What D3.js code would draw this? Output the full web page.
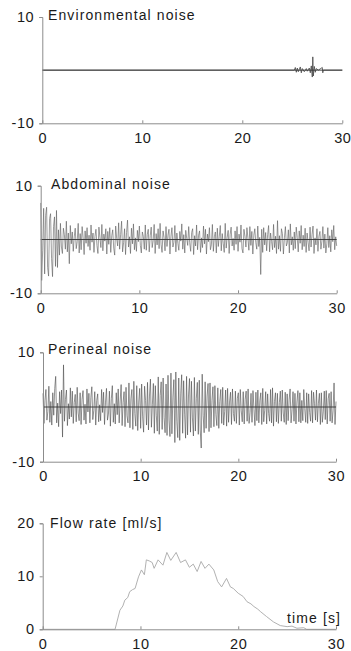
<!DOCTYPE html>
<html>
<head>
<meta charset="utf-8">
<script src="https://cdn.jsdelivr.net/npm/d3@7"></script>
<style>
  html, body { margin: 0; padding: 0; background: #fff; }
  svg { display: block; }
  text { font-family: "Liberation Sans", Arial, Helvetica, sans-serif; fill: #1a1a1a; }
</style>
</head>
<body>
<svg id="chart" width="351" height="651"></svg>
<script>
// ---------- DATA ----------
const xTicks = [0, 10, 20, 30];
const noiseYTicks = [-10, 10];
const flowYTicks = [0, 10, 20];
const titles = ["Environmental noise", "Abdominal noise", "Perineal noise", "Flow rate [ml/s]"];
const xAxisTitle = "time [s]";
const sampleStep = 0.1; // seconds between noise samples

// Environmental noise: sparse readings [time, value]
const envTime  = [0, 25.2, 25.3, 25.4, 25.5, 25.6, 25.8, 25.9, 26.0, 26.2, 26.4, 26.5, 26.7, 26.8, 26.9, 27.0, 27.05, 27.1, 27.2, 27.3, 27.4, 27.6, 28.0, 28.05, 28.1, 30];
const envValue = [0, 0, 0.5, -0.4, 0.4, -0.3, 0.6, -0.5, 0.3, -0.3, 0.3, -0.2, 0.4, -0.5, 0.8, -1.3, 2.5, -1.1, 0.7, -0.4, 0.3, 0, 0.5, -0.5, 0, 0];

// Abdominal noise, one value per sampleStep from t = 0
const abdominal = [
  6.8,-7.6,-2.0,5.8,-6.4,4.5,6.0,-5.2,-6.8,3.9,
  4.8,-3.5,-6.9,2.4,4.2,-5.0,5.4,-5.2,1.8,-2.9,
  3.0,-1.4,-2.6,2.1,0.9,-1.8,3.4,-2.3,1.2,-4.5,
  2.6,-0.8,1.4,-2.2,0.5,2.1,-1.7,-0.4,3.0,-2.5,
  1.1,-1.9,2.4,0.3,-2.8,1.6,-0.7,2.2,-1.3,0.8,
  -2.0,2.7,-0.5,1.2,-2.4,0.6,1.9,-1.1,-2.6,2.3,
  0.4,-1.5,2.8,-2.1,1.0,-0.3,2.0,-2.7,1.5,-0.9,
  2.2,-2.4,0.7,1.8,-1.6,-2.9,2.5,0.2,-1.2,3.1,
  -1.8,0.9,3.4,-2.3,-0.6,2.0,-2.8,1.3,3.6,-1.4,
  0.5,-2.6,2.1,-0.8,2.9,-1.9,0.3,-2.2,1.7,-0.4,
  2.5,-1.1,-2.5,1.4,0.6,-1.8,2.7,-2.0,0.9,1.9,
  -2.3,0.7,2.3,-1.5,-0.2,2.8,-2.6,1.1,-1.0,2.0,
  -1.7,3.0,-0.9,-2.4,1.6,0.4,-2.1,2.4,-1.3,0.8,
  1.9,-2.7,0.6,2.2,-1.4,-0.5,2.6,-2.3,1.2,-0.7,
  -2.0,1.5,-0.3,2.9,-1.8,0.9,-2.5,1.7,0.2,-1.1,
  2.4,-0.6,-2.2,1.3,2.0,-2.8,0.7,-1.2,2.7,-1.9,
  0.8,1.6,-2.4,0.3,-1.5,2.5,-0.8,1.9,-2.7,1.0,
  -0.4,2.2,-1.9,-1.0,2.8,-2.2,0.5,1.4,-2.5,2.1,
  -1.3,0.6,2.6,-2.1,1.1,-0.7,-2.4,3.0,-1.6,0.4,
  1.7,-2.6,0.9,2.3,-1.2,0.2,-2.0,1.6,-0.9,2.4,
  -2.2,1.0,-0.5,2.7,-1.7,-2.5,1.9,0.6,-1.4,2.2,
  0.3,-2.0,2.4,-1.1,1.5,-2.7,0.8,2.0,-0.6,-1.8,
  2.5,-1.3,0.4,-6.5,1.9,-2.4,2.2,-1.0,1.3,-2.1,
  0.9,2.6,-2.3,1.2,-0.4,-1.9,2.8,-1.5,0.6,-2.6,
  3.5,-1.8,0.7,-2.2,2.0,1.1,-2.7,0.3,2.4,-1.2,
  -0.6,1.8,-2.5,2.9,-1.0,0.5,-2.0,1.4,-1.7,2.3,
  0.4,-2.3,1.6,-0.7,2.6,-1.9,0.8,-1.3,2.1,-2.4,
  1.2,-0.5,-2.1,2.3,-1.4,0.9,2.5,-2.6,0.3,-1.0,
  2.0,-2.2,0.6,1.5,-1.8,-0.3,2.4,-1.6,1.0,-2.5,
  -0.8,2.2,-1.5,0.7,-2.3,1.8,-0.4,2.6,-1.9,0.5,
  -1.2
];

// Perineal noise, one value per sampleStep from t = 0
const perineal = [
  2.5,-3.0,1.2,3.2,-2.4,-0.8,3.8,-2.8,1.0,-3.3,
  2.6,-1.5,3.4,5.6,-2.9,0.7,-3.6,2.8,-1.2,3.1,
  -5.5,7.7,-2.6,1.4,3.1,-3.4,0.6,-2.2,3.5,-1.8,
  2.9,-3.0,0.8,2.3,-2.7,3.6,-1.1,-2.5,2.6,-3.2,
  1.4,3.0,-2.4,0.5,-3.1,3.3,-0.9,2.5,-2.9,1.7,
  3.7,-2.3,-0.6,2.8,-3.3,1.2,2.4,-2.7,0.4,-2.5,
  3.2,-1.0,2.7,-3.2,0.9,3.4,-2.4,-1.3,2.9,-3.5,
  1.6,3.9,-2.8,0.6,-3.1,2.6,-1.4,3.3,-2.9,1.1,
  4.1,-3.4,0.8,2.8,-3.6,3.6,-1.6,-2.9,4.4,-3.8,
  1.5,3.2,-4.1,4.7,-1.2,-3.5,3.9,-4.3,0.9,3.4,
  -3.9,4.2,-1.8,-4.6,3.8,1.2,-3.3,4.5,-4.2,2.0,
  5.1,-3.7,0.5,4.3,-4.8,3.9,-1.5,-4.4,5.5,-5.0,
  2.1,4.6,-4.1,5.3,-1.9,-4.7,4.2,-5.2,5.8,-2.4,
  -5.4,6.2,-4.9,1.8,5.0,-6.5,6.4,-2.6,-5.6,5.3,
  -6.1,2.4,5.9,-4.8,4.8,-1.3,-5.7,5.6,-5.1,2.2,
  5.2,-4.6,4.7,-2.0,-5.3,5.4,-4.4,1.6,4.5,-5.0,
  4.9,-4.2,-7.5,6.0,-1.5,-4.7,4.6,-3.9,2.0,4.3,
  -4.5,4.4,-3.8,1.2,3.7,-3.6,3.9,-1.4,-3.4,3.5,
  -3.9,1.0,3.2,-3.0,3.6,-3.3,-0.8,3.1,-3.5,3.4,
  -2.8,0.9,2.7,-3.2,3.3,-1.2,-2.6,2.9,-3.0,1.6,
  2.6,-3.3,3.2,-0.7,-2.7,2.8,-3.1,1.4,2.9,-2.6,
  3.3,-3.0,-1.0,2.5,-2.8,3.0,-0.4,-3.4,2.7,-2.5,
  3.1,-2.9,1.1,2.6,-3.2,3.4,-2.7,-0.6,2.8,-3.1,
  2.4,-1.2,-2.6,3.2,-2.9,3.5,-3.5,1.0,2.6,-2.7,
  2.5,-3.0,0.8,2.9,-2.6,3.1,-1.1,-2.8,2.7,-3.2,
  2.4,-2.5,1.3,3.3,-2.9,-0.5,2.8,-2.6,2.5,-3.1,
  0.9,3.0,-2.7,2.6,-2.9,1.2,-2.5,3.2,-0.3,-2.8,
  2.6,-3.0,2.4,-1.0,-2.6,3.0,-2.9,2.7,0.6,-2.4,
  3.1,-2.7,0.7,2.5,-3.2,2.6,-2.8,-0.9,2.9,-2.3,
  3.0,-3.1,1.5,2.5,-2.6,2.8,-2.9,-0.7,4.4,-3.2,
  1.0
];

// Flow rate readings [time, ml/s]
const flowTime  = [0, 7.4, 7.9, 8.2, 8.4, 8.7, 8.9, 9.2, 9.45, 9.8, 10.1, 10.4, 10.6, 10.9, 11.2, 11.4, 11.8, 12.3, 12.7, 13.1, 13.65, 14.1, 14.6, 15.0, 15.4, 15.8, 16.2, 16.6, 17.0, 17.5, 17.9, 18.3, 18.8, 19.2, 19.5, 20.0, 20.5, 20.9, 21.3, 21.6, 22.0, 22.3, 22.9, 23.6, 24.3, 25.0, 25.5, 26.0, 26.7, 27.0, 30];
const flowValue = [0, 0, 3.6, 4.4, 5.5, 6.0, 7.1, 7.5, 7.7, 9.9, 11.2, 10.3, 13.1, 12.9, 12.6, 11.5, 13.1, 12.1, 14.5, 13.0, 14.5, 12.6, 13.1, 11.7, 12.3, 10.9, 12.8, 11.5, 12.3, 11.2, 9.0, 8.0, 9.6, 8.0, 7.7, 6.8, 6.2, 5.2, 4.8, 4.3, 3.8, 3.3, 2.4, 1.4, 0.7, 0.5, 0.6, 0.2, 0.3, 0, 0];

// ---------- LAYOUT ----------
const panels = [
  { x0: 42.3, x1: 342.3, yTop: 17,    yBot: 123.3, dom: [-10, 10], yt: noiseYTicks, title: titles[0], tx: 48, ty: 20,
    pts: envTime.map((t, i) => [t, envValue[i]]), stroke: "#444", sw: 0.8, zero: true },
  { x0: 40.7, x1: 336.7, yTop: 185.7, yBot: 293.3, dom: [-10, 10], yt: noiseYTicks, title: titles[1], tx: 51, ty: 189,
    pts: abdominal.map((v, i) => [i * sampleStep, v]), stroke: "#5a5a5a", sw: 0.6, zero: true },
  { x0: 43,   x1: 336,   yTop: 352.3, yBot: 461.7, dom: [-10, 10], yt: noiseYTicks, title: titles[2], tx: 48, ty: 354,
    pts: perineal.map((v, i) => [i * sampleStep, v]), stroke: "#4a4a4a", sw: 0.6, zero: true },
  { x0: 42.7, x1: 336,   yTop: 523.3, yBot: 629.3, dom: [0, 20],   yt: flowYTicks,  title: titles[3], tx: 50, ty: 528,
    pts: flowTime.map((t, i) => [t, flowValue[i]]), stroke: "#a8a8a8", sw: 0.9, zero: false }
];

const svg = d3.select("#chart");
const axisColor = "#8c8c8c";
const fmt = d => String(d);

panels.forEach(p => {
  const x = d3.scaleLinear().domain([0, 30]).range([p.x0, p.x1]);
  const y = d3.scaleLinear().domain(p.dom).range([p.yBot, p.yTop]);
  const g = svg.append("g");

  // data trace
  g.append("path")
    .datum(p.pts)
    .attr("d", d3.line().x(d => x(d[0])).y(d => y(d[1])))
    .attr("fill", "none")
    .attr("stroke", p.stroke)
    .attr("stroke-width", p.sw)
    .attr("stroke-linejoin", "round");

  // zero baseline for noise panels
  if (p.zero) {
    g.append("line")
      .attr("x1", x(0)).attr("x2", x(30))
      .attr("y1", y(0)).attr("y2", y(0))
      .attr("stroke", "#333").attr("stroke-width", 0.9);
  }

  // y axis
  const ya = g.append("g")
    .attr("transform", `translate(${p.x0},0)`)
    .call(d3.axisLeft(y).tickValues(p.yt).tickSize(3).tickPadding(5).tickFormat(fmt));
  // x axis
  const xa = g.append("g")
    .attr("transform", `translate(0,${p.yBot})`)
    .call(d3.axisBottom(x).tickValues(xTicks).tickSizeInner(-3).tickSizeOuter(0).tickPadding(9.5).tickFormat(fmt));

  [ya, xa].forEach(a => {
    a.select(".domain").attr("stroke", axisColor).attr("stroke-width", 1);
    a.selectAll(".tick line").attr("stroke", axisColor).attr("stroke-width", 1);
    a.selectAll(".tick text")
      .attr("fill", "#1a1a1a")
      .style("font-family", '"Liberation Sans", Arial, Helvetica, sans-serif')
      .style("font-size", "14.5px")
      .style("letter-spacing", "0.6px");
  });

  // title
  g.append("text")
    .attr("x", p.tx).attr("y", p.ty)
    .style("font-size", "14px")
    .style("letter-spacing", "1.1px")
    .text(p.title);
});

// x-axis title on the flow panel
svg.append("text")
  .attr("x", 341).attr("y", 623)
  .attr("text-anchor", "end")
  .style("font-size", "14px")
  .style("letter-spacing", "1.1px")
  .text(xAxisTitle);
</script>
</body>
</html>
